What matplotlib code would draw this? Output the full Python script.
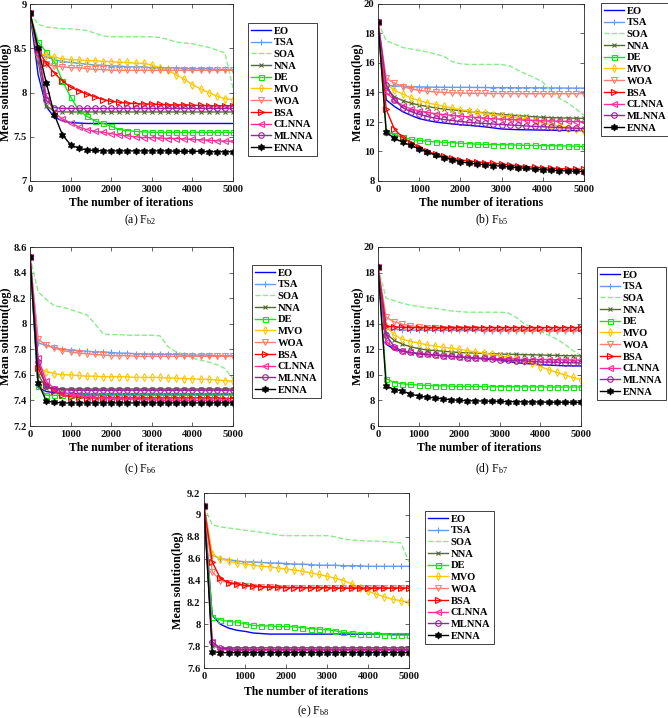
import matplotlib
matplotlib.use('Agg')
import matplotlib.pyplot as plt

plt.rcParams['font.family'] = ['Liberation Serif', 'DejaVu Serif']
plt.rcParams['mathtext.fontset'] = 'custom'
plt.rcParams['mathtext.rm'] = 'Liberation Serif'
plt.rcParams['mathtext.it'] = 'Liberation Serif:italic'
plt.rcParams['mathtext.bf'] = 'Liberation Serif:bold'

# ---------------- data ----------------
ITER = [0, 200, 400, 600, 800, 1000, 1200, 1400, 1600, 1800, 2000, 2200, 2400,
        2600, 2800, 3000, 3200, 3400, 3600, 3800, 4000, 4200, 4400, 4600, 4800, 5000]
ALGOS = ['EO', 'TSA', 'SOA', 'NNA', 'DE', 'MVO', 'WOA', 'BSA', 'CLNNA', 'MLNNA', 'ENNA']

# (a) F_b2
a_EO = [8.90, 8.20, 7.84, 7.72, 7.68, 7.66, 7.655, 7.65, 7.65, 7.65, 7.65, 7.65, 7.65, 7.65, 7.65, 7.65, 7.65, 7.65, 7.65, 7.65, 7.65, 7.65, 7.65, 7.65, 7.65, 7.65]
a_TSA = [8.90, 8.45, 8.40, 8.37, 8.35, 8.34, 8.33, 8.32, 8.31, 8.31, 8.30, 8.30, 8.29, 8.29, 8.29, 8.28, 8.28, 8.28, 8.28, 8.27, 8.27, 8.27, 8.27, 8.26, 8.26, 8.26]
a_SOA = [8.90, 8.77, 8.74, 8.73, 8.72, 8.72, 8.71, 8.70, 8.67, 8.64, 8.63, 8.63, 8.63, 8.63, 8.63, 8.63, 8.62, 8.60, 8.57, 8.56, 8.55, 8.53, 8.51, 8.48, 8.45, 8.05]
a_NNA = [8.90, 8.35, 7.85, 7.79, 7.78, 7.78, 7.78, 7.78, 7.78, 7.78, 7.78, 7.78, 7.78, 7.78, 7.78, 7.78, 7.78, 7.78, 7.78, 7.78, 7.78, 7.78, 7.78, 7.78, 7.78, 7.78]
a_DE = [8.90, 8.57, 8.46, 8.35, 8.13, 7.95, 7.80, 7.73, 7.68, 7.65, 7.62, 7.58, 7.57, 7.56, 7.555, 7.55, 7.55, 7.55, 7.55, 7.55, 7.55, 7.55, 7.55, 7.55, 7.55, 7.55]
a_MVO = [8.90, 8.45, 8.42, 8.40, 8.38, 8.37, 8.37, 8.36, 8.36, 8.35, 8.35, 8.34, 8.34, 8.33, 8.33, 8.31, 8.28, 8.25, 8.20, 8.15, 8.09, 8.04, 8.00, 7.96, 7.93, 7.92]
a_WOA = [8.90, 8.40, 8.32, 8.30, 8.29, 8.28, 8.28, 8.27, 8.26, 8.26, 8.25, 8.25, 8.25, 8.25, 8.25, 8.25, 8.25, 8.25, 8.25, 8.25, 8.25, 8.25, 8.25, 8.25, 8.25, 8.25]
a_BSA = [8.90, 8.48, 8.33, 8.22, 8.13, 8.06, 8.02, 7.98, 7.95, 7.92, 7.90, 7.89, 7.88, 7.875, 7.87, 7.87, 7.865, 7.86, 7.86, 7.86, 7.855, 7.855, 7.85, 7.85, 7.85, 7.85]
a_CLNNA = [8.90, 8.48, 7.97, 7.77, 7.70, 7.66, 7.61, 7.58, 7.56, 7.55, 7.535, 7.52, 7.51, 7.50, 7.49, 7.49, 7.485, 7.48, 7.48, 7.475, 7.47, 7.465, 7.46, 7.455, 7.45, 7.45]
a_MLNNA = [8.90, 8.45, 7.91, 7.83, 7.82, 7.82, 7.82, 7.82, 7.82, 7.82, 7.82, 7.82, 7.82, 7.82, 7.82, 7.82, 7.82, 7.82, 7.82, 7.82, 7.82, 7.82, 7.82, 7.82, 7.82, 7.82]
a_ENNA = [8.90, 8.50, 8.11, 7.75, 7.52, 7.41, 7.37, 7.35, 7.345, 7.34, 7.34, 7.34, 7.34, 7.34, 7.34, 7.34, 7.34, 7.34, 7.335, 7.335, 7.335, 7.335, 7.33, 7.33, 7.33, 7.33]

# (b) F_b5
b_EO = [18.8, 13.5, 13.05, 12.7, 12.45, 12.23, 12.1, 12.0, 11.93, 11.87, 11.82, 11.77, 11.72, 11.67, 11.6, 11.53, 11.5, 11.48, 11.47, 11.46, 11.45, 11.44, 11.43, 11.43, 11.42, 11.42]
b_TSA = [18.8, 14.5, 14.45, 14.42, 14.4, 14.38, 14.37, 14.36, 14.36, 14.35, 14.35, 14.35, 14.34, 14.34, 14.33, 14.33, 14.33, 14.32, 14.32, 14.32, 14.32, 14.31, 14.31, 14.3, 14.3, 14.3]
b_SOA = [18.8, 17.5, 17.3, 17.05, 16.95, 16.85, 16.75, 16.6, 16.45, 16.1, 15.95, 15.9, 15.9, 15.9, 15.9, 15.9, 15.8, 15.5, 15.25, 15.0, 14.7, 14.1, 13.6, 13.3, 12.9, 12.45]
b_NNA = [18.8, 14.3, 13.7, 13.45, 13.28, 13.15, 13.05, 12.95, 12.88, 12.82, 12.77, 12.72, 12.67, 12.62, 12.57, 12.52, 12.47, 12.43, 12.39, 12.35, 12.32, 12.3, 12.28, 12.27, 12.26, 12.25]
b_DE = [18.8, 11.35, 11.15, 10.95, 10.82, 10.75, 10.7, 10.65, 10.62, 10.6, 10.56, 10.53, 10.5, 10.48, 10.47, 10.46, 10.45, 10.43, 10.42, 10.41, 10.4, 10.39, 10.38, 10.37, 10.36, 10.35]
b_MVO = [18.8, 14.6, 14.14, 13.9, 13.63, 13.45, 13.3, 13.18, 13.06, 12.95, 12.84, 12.76, 12.66, 12.58, 12.5, 12.43, 12.36, 12.28, 12.2, 12.1, 11.95, 11.82, 11.72, 11.62, 11.52, 11.42]
b_WOA = [18.8, 14.95, 14.64, 14.4, 14.25, 14.15, 14.08, 14.03, 14.0, 13.98, 13.96, 13.95, 13.94, 13.94, 13.93, 13.93, 13.93, 13.92, 13.92, 13.92, 13.92, 13.92, 13.92, 13.92, 13.92, 13.92]
b_BSA = [18.8, 12.85, 11.5, 10.95, 10.6, 10.3, 10.0, 9.82, 9.67, 9.53, 9.43, 9.36, 9.3, 9.25, 9.2, 9.15, 9.08, 9.02, 8.97, 8.93, 8.9, 8.87, 8.84, 8.82, 8.8, 8.78]
b_CLNNA = [18.8, 14.0, 13.5, 13.1, 12.9, 12.75, 12.65, 12.56, 12.5, 12.45, 12.4, 12.35, 12.3, 12.26, 12.22, 12.19, 12.17, 12.15, 12.12, 12.1, 12.08, 12.07, 12.05, 12.04, 12.03, 12.02]
b_MLNNA = [18.8, 14.5, 13.5, 12.97, 12.7, 12.52, 12.37, 12.26, 12.17, 12.1, 12.03, 11.98, 11.93, 11.9, 11.86, 11.83, 11.8, 11.77, 11.73, 11.7, 11.68, 11.65, 11.62, 11.6, 11.58, 11.55]
b_ENNA = [18.8, 11.3, 10.9, 10.62, 10.42, 10.18, 9.95, 9.75, 9.58, 9.45, 9.3, 9.22, 9.15, 9.1, 9.05, 9.0, 8.95, 8.9, 8.85, 8.8, 8.77, 8.73, 8.7, 8.68, 8.66, 8.63]

# (c) F_b6
c_EO = [8.52, 7.50, 7.47, 7.46, 7.455, 7.455, 7.45, 7.45, 7.45, 7.45, 7.45, 7.45, 7.45, 7.45, 7.45, 7.45, 7.45, 7.45, 7.45, 7.45, 7.45, 7.45, 7.45, 7.45, 7.45, 7.45]
c_TSA = [8.52, 7.85, 7.83, 7.815, 7.80, 7.795, 7.79, 7.785, 7.78, 7.78, 7.775, 7.77, 7.77, 7.765, 7.765, 7.76, 7.76, 7.76, 7.76, 7.755, 7.755, 7.755, 7.755, 7.75, 7.75, 7.75]
c_SOA = [8.52, 8.25, 8.19, 8.14, 8.13, 8.11, 8.09, 8.07, 8.00, 7.92, 7.915, 7.915, 7.91, 7.91, 7.91, 7.91, 7.905, 7.82, 7.78, 7.76, 7.73, 7.715, 7.70, 7.68, 7.65, 7.57]
c_NNA = [8.52, 7.60, 7.50, 7.495, 7.49, 7.49, 7.49, 7.49, 7.49, 7.49, 7.49, 7.49, 7.49, 7.49, 7.49, 7.49, 7.49, 7.49, 7.49, 7.49, 7.49, 7.49, 7.49, 7.49, 7.49, 7.49]
c_DE = [8.52, 7.51, 7.44, 7.44, 7.44, 7.44, 7.44, 7.44, 7.44, 7.44, 7.44, 7.44, 7.44, 7.44, 7.44, 7.44, 7.44, 7.44, 7.44, 7.44, 7.44, 7.44, 7.44, 7.44, 7.44, 7.44]
c_MVO = [8.52, 7.66, 7.625, 7.61, 7.60, 7.60, 7.595, 7.59, 7.59, 7.585, 7.585, 7.585, 7.585, 7.58, 7.58, 7.58, 7.58, 7.575, 7.575, 7.57, 7.57, 7.565, 7.565, 7.56, 7.555, 7.55]
c_WOA = [8.52, 7.88, 7.83, 7.81, 7.79, 7.78, 7.77, 7.765, 7.76, 7.755, 7.75, 7.75, 7.75, 7.745, 7.745, 7.745, 7.745, 7.745, 7.745, 7.745, 7.745, 7.745, 7.745, 7.745, 7.745, 7.745]
c_BSA = [8.52, 7.65, 7.52, 7.47, 7.44, 7.43, 7.425, 7.42, 7.42, 7.42, 7.42, 7.42, 7.42, 7.42, 7.42, 7.42, 7.42, 7.42, 7.42, 7.42, 7.42, 7.42, 7.42, 7.42, 7.415, 7.415]
c_CLNNA = [8.52, 7.73, 7.55, 7.49, 7.46, 7.45, 7.44, 7.43, 7.425, 7.42, 7.415, 7.41, 7.41, 7.41, 7.405, 7.405, 7.40, 7.40, 7.40, 7.40, 7.40, 7.40, 7.40, 7.40, 7.40, 7.395]
c_MLNNA = [8.52, 7.70, 7.51, 7.49, 7.485, 7.48, 7.48, 7.48, 7.48, 7.48, 7.48, 7.48, 7.48, 7.48, 7.48, 7.48, 7.48, 7.48, 7.48, 7.48, 7.48, 7.48, 7.48, 7.48, 7.48, 7.48]
c_ENNA = [8.52, 7.54, 7.395, 7.385, 7.38, 7.38, 7.38, 7.38, 7.38, 7.38, 7.38, 7.38, 7.38, 7.38, 7.38, 7.38, 7.38, 7.38, 7.38, 7.38, 7.38, 7.38, 7.38, 7.38, 7.38, 7.38]

# (d) F_b7
d_EO = [18.4, 12.4, 12.0, 11.85, 11.75, 11.65, 11.6, 11.55, 11.5, 11.45, 11.4, 11.35, 11.3, 11.25, 11.2, 11.15, 11.05, 10.95, 10.9, 10.85, 10.8, 10.76, 10.73, 10.71, 10.7, 10.7]
d_TSA = [18.4, 13.6, 13.55, 13.52, 13.5, 13.5, 13.5, 13.48, 13.48, 13.48, 13.47, 13.47, 13.47, 13.46, 13.46, 13.46, 13.46, 13.45, 13.45, 13.45, 13.45, 13.45, 13.45, 13.45, 13.45, 13.45]
d_SOA = [18.4, 16.0, 15.8, 15.6, 15.45, 15.35, 15.25, 15.2, 15.1, 15.0, 14.95, 14.9, 14.9, 14.9, 14.9, 14.9, 14.85, 14.5, 14.0, 13.7, 13.4, 13.1, 12.8, 12.4, 11.9, 11.5]
d_NNA = [18.4, 13.2, 12.7, 12.4, 12.2, 12.05, 11.95, 11.9, 11.85, 11.8, 11.75, 11.72, 11.7, 11.68, 11.65, 11.63, 11.61, 11.6, 11.58, 11.57, 11.55, 11.53, 11.52, 11.5, 11.5, 11.48]
d_DE = [18.4, 9.7, 9.4, 9.3, 9.25, 9.2, 9.18, 9.15, 9.14, 9.12, 9.1, 9.1, 9.09, 9.09, 9.08, 9.08, 9.07, 9.07, 9.06, 9.06, 9.06, 9.05, 9.05, 9.05, 9.05, 9.05]
d_MVO = [18.4, 13.8, 13.1, 12.8, 12.6, 12.5, 12.35, 12.25, 12.15, 12.08, 12.0, 11.9, 11.8, 11.7, 11.6, 11.5, 11.4, 11.25, 11.1, 10.9, 10.65, 10.4, 10.2, 10.0, 9.8, 9.62]
d_WOA = [18.4, 14.5, 14.15, 13.95, 13.85, 13.75, 13.7, 13.65, 13.62, 13.6, 13.58, 13.56, 13.55, 13.54, 13.53, 13.52, 13.52, 13.51, 13.51, 13.5, 13.5, 13.5, 13.5, 13.5, 13.5, 13.5]
d_BSA = [18.4, 13.8, 13.75, 13.72, 13.7, 13.7, 13.7, 13.7, 13.7, 13.7, 13.7, 13.7, 13.7, 13.7, 13.7, 13.7, 13.7, 13.7, 13.7, 13.7, 13.7, 13.7, 13.7, 13.7, 13.7, 13.7]
d_CLNNA = [18.4, 12.6, 12.1, 11.9, 11.75, 11.65, 11.6, 11.55, 11.5, 11.45, 11.4, 11.35, 11.3, 11.3, 11.28, 11.25, 11.25, 11.22, 11.2, 11.2, 11.2, 11.2, 11.18, 11.18, 11.15, 11.15]
d_MLNNA = [18.4, 13.1, 12.2, 11.85, 11.75, 11.65, 11.6, 11.55, 11.5, 11.45, 11.4, 11.35, 11.3, 11.28, 11.25, 11.2, 11.15, 11.1, 11.1, 11.05, 11.0, 11.0, 10.98, 10.95, 10.95, 10.92]
d_ENNA = [18.4, 9.15, 8.85, 8.75, 8.5, 8.35, 8.25, 8.2, 8.12, 8.05, 8.0, 7.98, 7.96, 7.95, 7.93, 7.92, 7.9, 7.9, 7.88, 7.88, 7.87, 7.86, 7.86, 7.85, 7.85, 7.85]

# (e) F_b8
e_EO = [9.08, 8.08, 8.0, 7.965, 7.945, 7.935, 7.92, 7.915, 7.91, 7.91, 7.91, 7.91, 7.91, 7.91, 7.91, 7.91, 7.91, 7.91, 7.91, 7.91, 7.91, 7.91, 7.91, 7.91, 7.91, 7.91]
e_TSA = [9.08, 8.63, 8.60, 8.59, 8.58, 8.57, 8.57, 8.565, 8.56, 8.56, 8.555, 8.55, 8.55, 8.545, 8.54, 8.54, 8.54, 8.535, 8.535, 8.535, 8.53, 8.53, 8.53, 8.53, 8.53, 8.53]
e_SOA = [9.08, 8.91, 8.89, 8.88, 8.87, 8.86, 8.85, 8.84, 8.83, 8.815, 8.81, 8.81, 8.81, 8.81, 8.81, 8.81, 8.80, 8.78, 8.77, 8.765, 8.76, 8.76, 8.755, 8.75, 8.745, 8.57]
e_NNA = [9.08, 7.80, 7.785, 7.785, 7.785, 7.785, 7.785, 7.785, 7.785, 7.785, 7.785, 7.785, 7.785, 7.785, 7.785, 7.785, 7.785, 7.785, 7.785, 7.785, 7.785, 7.785, 7.785, 7.785, 7.785, 7.785]
e_DE = [9.08, 8.07, 8.04, 8.025, 8.02, 8.005, 7.99, 7.985, 7.985, 7.98, 7.98, 7.975, 7.97, 7.96, 7.955, 7.95, 7.94, 7.925, 7.92, 7.915, 7.915, 7.91, 7.905, 7.90, 7.90, 7.90]
e_MVO = [9.08, 8.64, 8.60, 8.58, 8.56, 8.55, 8.54, 8.53, 8.525, 8.515, 8.505, 8.495, 8.485, 8.47, 8.455, 8.44, 8.42, 8.40, 8.37, 8.33, 8.30, 8.275, 8.25, 8.23, 8.215, 8.205]
e_WOA = [9.08, 8.48, 8.40, 8.38, 8.36, 8.35, 8.345, 8.34, 8.34, 8.335, 8.335, 8.335, 8.33, 8.33, 8.33, 8.33, 8.33, 8.33, 8.33, 8.33, 8.33, 8.33, 8.33, 8.33, 8.33, 8.33]
e_BSA = [9.08, 8.57, 8.42, 8.38, 8.37, 8.355, 8.35, 8.345, 8.34, 8.34, 8.335, 8.335, 8.335, 8.335, 8.335, 8.335, 8.33, 8.33, 8.33, 8.33, 8.33, 8.33, 8.33, 8.33, 8.33, 8.33]
e_CLNNA = [9.08, 7.84, 7.77, 7.765, 7.76, 7.76, 7.76, 7.76, 7.76, 7.76, 7.76, 7.76, 7.76, 7.76, 7.76, 7.76, 7.76, 7.76, 7.76, 7.76, 7.76, 7.76, 7.76, 7.76, 7.76, 7.76]
e_MLNNA = [9.08, 7.84, 7.78, 7.775, 7.77, 7.77, 7.77, 7.77, 7.77, 7.77, 7.77, 7.77, 7.77, 7.77, 7.77, 7.77, 7.77, 7.77, 7.77, 7.77, 7.77, 7.77, 7.77, 7.77, 7.77, 7.77]
e_ENNA = [9.08, 7.75, 7.74, 7.74, 7.74, 7.74, 7.74, 7.74, 7.74, 7.74, 7.74, 7.74, 7.74, 7.74, 7.74, 7.74, 7.74, 7.74, 7.74, 7.74, 7.74, 7.74, 7.74, 7.74, 7.74, 7.74]

XTICKS = [0, 1000, 2000, 3000, 4000, 5000]
a_YTICKS = [7, 7.5, 8, 8.5, 9]
b_YTICKS = [8, 10, 12, 14, 16, 18, 20]
c_YTICKS = [7.2, 7.4, 7.6, 7.8, 8, 8.2, 8.4, 8.6]
d_YTICKS = [6, 8, 10, 12, 14, 16, 18, 20]
e_YTICKS = [7.6, 7.8, 8, 8.2, 8.4, 8.6, 8.8, 9, 9.2]
CAPTIONS = [r'(a) F$_{\mathrm{b2}}$', r'(b) F$_{\mathrm{b5}}$', r'(c) F$_{\mathrm{b6}}$',
            r'(d) F$_{\mathrm{b7}}$', r'(e) F$_{\mathrm{b8}}$']

# ---------------- styles ----------------
COLORS = ['#0000FF', '#6A9BF4', '#8CEB8C', '#556B2F', '#14E614', '#FFC800',
          '#FA8072', '#FF0000', '#FF2E9A', '#A020A0', '#000000']
MARKERS = [None, '+', None, 'x', 's', 'd', 'v', '>', '<', 'o', (6, 1, 0)]
MSIZES = [0, 5, 0, 3, 3.6, 4, 4, 4, 4, 4, 5]
LSTYLES = ['-', '-', '--', '-', '-', '-', '-', '-', '-', '-', '-']
FILLED = [False, False, False, False, False, False, False, False, False, False, True]

W, H = 668, 718
fig = plt.figure(figsize=(W / 100, H / 100), dpi=100)

# geometry in pixels: axes (left, top, right, bottom), legend upper-left, ylabel x, xlabel y, caption (x, y)
panels = [
    dict(series=[a_EO, a_TSA, a_SOA, a_NNA, a_DE, a_MVO, a_WOA, a_BSA, a_CLNNA, a_MLNNA, a_ENNA],
         yt=a_YTICKS, box=(30, 4, 233, 181), leg=(248, 23), ylx=6.5, xly=203, cap=(140, 220)),
    dict(series=[b_EO, b_TSA, b_SOA, b_NNA, b_DE, b_MVO, b_WOA, b_BSA, b_CLNNA, b_MLNNA, b_ENNA],
         yt=b_YTICKS, box=(378, 4, 584, 181), leg=(601, 3), ylx=357.5, xly=203, cap=(492, 220)),
    dict(series=[c_EO, c_TSA, c_SOA, c_NNA, c_DE, c_MVO, c_WOA, c_BSA, c_CLNNA, c_MLNNA, c_ENNA],
         yt=c_YTICKS, box=(30, 247, 233, 426), leg=(252, 265), ylx=6.5, xly=448, cap=(140, 469)),
    dict(series=[d_EO, d_TSA, d_SOA, d_NNA, d_DE, d_MVO, d_WOA, d_BSA, d_CLNNA, d_MLNNA, d_ENNA],
         yt=d_YTICKS, box=(378, 247, 581, 426), leg=(597, 267), ylx=357.5, xly=448, cap=(492, 469)),
    dict(series=[e_EO, e_TSA, e_SOA, e_NNA, e_DE, e_MVO, e_WOA, e_BSA, e_CLNNA, e_MLNNA, e_ENNA],
         yt=e_YTICKS, box=(204, 493, 409, 668), leg=(425, 511), ylx=177.5, xly=692, cap=(313, 711)),
]

AXC = '#262626'

def fx(px):
    return px / W

def fy(py):
    return 1 - py / H

for i, p in enumerate(panels):
    l, t, r, b = p['box']
    ax = fig.add_axes([fx(l), fy(b), (r - l) / W, (b - t) / H])
    for name, vals, c, m, ms, ls, fill in zip(ALGOS, p['series'], COLORS, MARKERS,
                                               MSIZES, LSTYLES, FILLED):
        kw = {}
        if m is not None:
            kw = dict(marker=m, markersize=ms, markeredgewidth=0.8,
                      markerfacecolor=c if fill else 'none', markeredgecolor=c)
        ax.plot(ITER, vals, color=c, linestyle=ls, linewidth=1.0, label=name, **kw)
    yt = p['yt']
    ax.set_xlim(0, 5000)
    ax.set_ylim(yt[0], yt[-1])
    ax.set_xticks(XTICKS)
    ax.set_yticks(yt)
    ax.set_xticklabels([str(v) for v in XTICKS])
    ax.set_yticklabels([('%g' % v) for v in yt])
    ax.tick_params(direction='in', length=3, width=0.5, top=True, right=True,
                   labelsize=7.6, colors=AXC, labelcolor='#111111')
    ax.tick_params(axis='x', pad=3)
    ax.tick_params(axis='y', pad=2.5)
    for lab in ax.get_xticklabels() + ax.get_yticklabels():
        lab.set_fontweight('bold')
    for s in ax.spines.values():
        s.set_color(AXC)
        s.set_linewidth(0.6)
    ax.set_xlabel('The number of iterations', fontsize=8.4, fontweight='bold', va='center')
    ax.xaxis.set_label_coords(fx((l + r) / 2), fy(p['xly']), transform=fig.transFigure)
    ax.set_ylabel('Mean solution(log)', fontsize=8.7, fontweight='bold', va='center')
    ax.yaxis.set_label_coords(fx(p['ylx']), fy((t + b) / 2), transform=fig.transFigure)
    lx, ly = p['leg']
    leg = ax.legend(loc='upper left', bbox_to_anchor=(fx(lx), fy(ly)),
                    bbox_transform=fig.transFigure, borderaxespad=0, frameon=True,
                    fancybox=False, edgecolor='#222222', framealpha=1,
                    prop=dict(size=7.6, weight='bold'), borderpad=0.3,
                    labelspacing=0.22, handlelength=1.9, handletextpad=0.25)
    leg.get_frame().set_linewidth(0.6)
    cx, cy = p['cap']
    fig.text(fx(cx), fy(cy), CAPTIONS[i], fontsize=8.5, ha='center', va='center')

fig.savefig('out.png', dpi=100)
